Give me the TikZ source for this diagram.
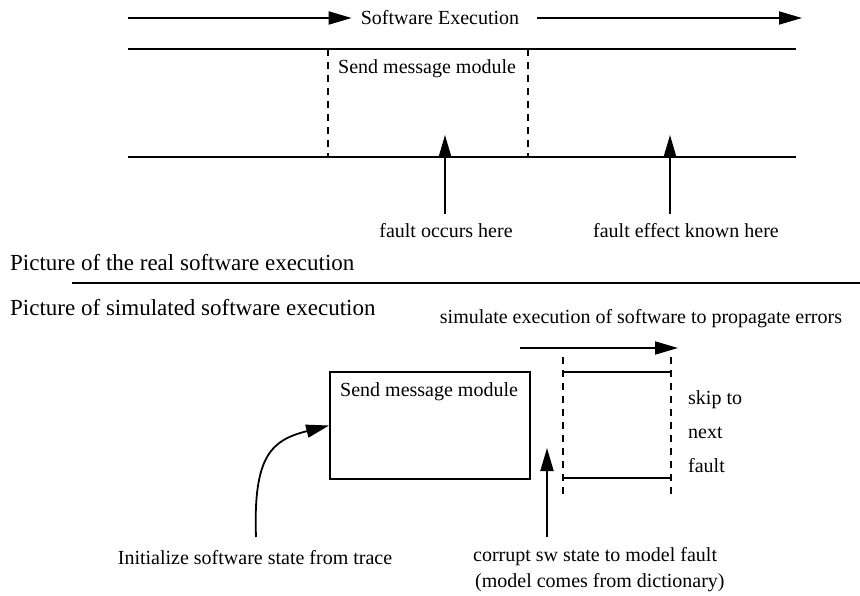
\documentclass[tikz,border=0pt]{standalone}
\usepackage{fontspec}
\setmainfont{Liberation Serif}
\usetikzlibrary{arrows.meta}
\begin{document}
\begin{tikzpicture}[x=1pt,y=-1pt,
  txt/.style={inner sep=0pt,font=\fontsize{20}{24}\selectfont},
  bigtxt/.style={inner sep=0pt,font=\fontsize{23}{27}\selectfont},
  solidline/.style={line width=1.8pt},
  dashline/.style={line width=1.3pt,dash pattern=on 7pt off 6pt},
  tip/.style={-{Triangle[length=23pt,width=13pt]}},
  arr/.style={line width=1.8pt,tip},
  modbox/.style={draw,line width=1.8pt,minimum width=200pt,minimum height=107pt,inner sep=0pt}]
\useasboundingbox (0,0) rectangle (860,596);

% --- real execution -------------------------------------------------
\node[txt] (exec) at (440,18) {Software Execution};
\coordinate (execL) at (128,18);
\coordinate (execR) at (802,18);
\draw[arr] (execL) -- ([xshift=-9pt]exec.west);
\draw[arr] ([xshift=18pt]exec.east) -- (execR);

\coordinate (tL) at (128,49);  \coordinate (tR) at (796,49);
\coordinate (bL) at (128,157); \coordinate (bR) at (796,157);
\draw[solidline] (tL) -- (tR);
\draw[solidline] (bL) -- (bR);

\coordinate (d1t) at (328,49);  \coordinate (d1b) at (328,157);
\coordinate (d2t) at (528,49);  \coordinate (d2b) at (528,157);
\draw[dashline] (d1t) -- (d1b);
\draw[dashline] (d2t) -- (d2b);
\node[txt,anchor=west] (realmod) at (338,69) {Send message module};

\node[txt] (occurs) at (446,231) {fault occurs here};
\node[txt] (known) at (686,231) {fault effect known here};
\coordinate (occTip) at (445,135);
\coordinate (knownTip) at (670,135);
\draw[arr] (445,214) -- (occTip);
\draw[arr] (670,214) -- (knownTip);

% --- section divider --------------------------------------------------
\node[bigtxt,anchor=west] (realcap) at (10,263) {Picture of the real software execution};
\coordinate (divL) at (72,283); \coordinate (divR) at (860,283);
\draw[solidline] (divL) -- (divR);
\node[bigtxt,anchor=west] (simcap) at (10,308) {Picture of simulated software execution};

% --- simulated execution ---------------------------------------------
\node[txt] (simtxt) at (641,319) {simulate execution of software to propagate errors};
\coordinate (simL) at (520,348); \coordinate (simR) at (678,348);
\draw[arr] (simL) -- (simR);

\coordinate (s1t) at (563,357); \coordinate (s1b) at (563,495);
\coordinate (s2t) at (671,357); \coordinate (s2b) at (671,495);
\draw[dashline] (s1t) -- (s1b);
\draw[dashline] (s2t) -- (s2b);
\draw[solidline] (563,372) -- (671,372);
\draw[solidline] (563,478) -- (671,478);

\node[txt,anchor=west] (skip) at (688,400) {skip to};
\node[txt,anchor=west] (next) at (688,433) {next};
\node[txt,anchor=west] (flt) at (688,466) {fault};

\node[modbox] (msgbox) at (430,425.5) {};
\node[txt,anchor=west] (simmod) at (340,392) {Send message module};

\coordinate (initStart) at (256,537);
\draw[arr]
  (initStart) .. controls (253,455) and (272,440) .. (msgbox.west);
\node[txt] (init) at (255,558) {Initialize software state from trace};

\coordinate (corTip) at (547,448);
\draw[arr] (547,537) -- (corTip);
\node[txt,anchor=west] (corrupt) at (473,557) {corrupt sw state to model fault};
\node[txt,anchor=west] (dict) at (475,583) {(model comes from dictionary)};
\end{tikzpicture}
\end{document}
